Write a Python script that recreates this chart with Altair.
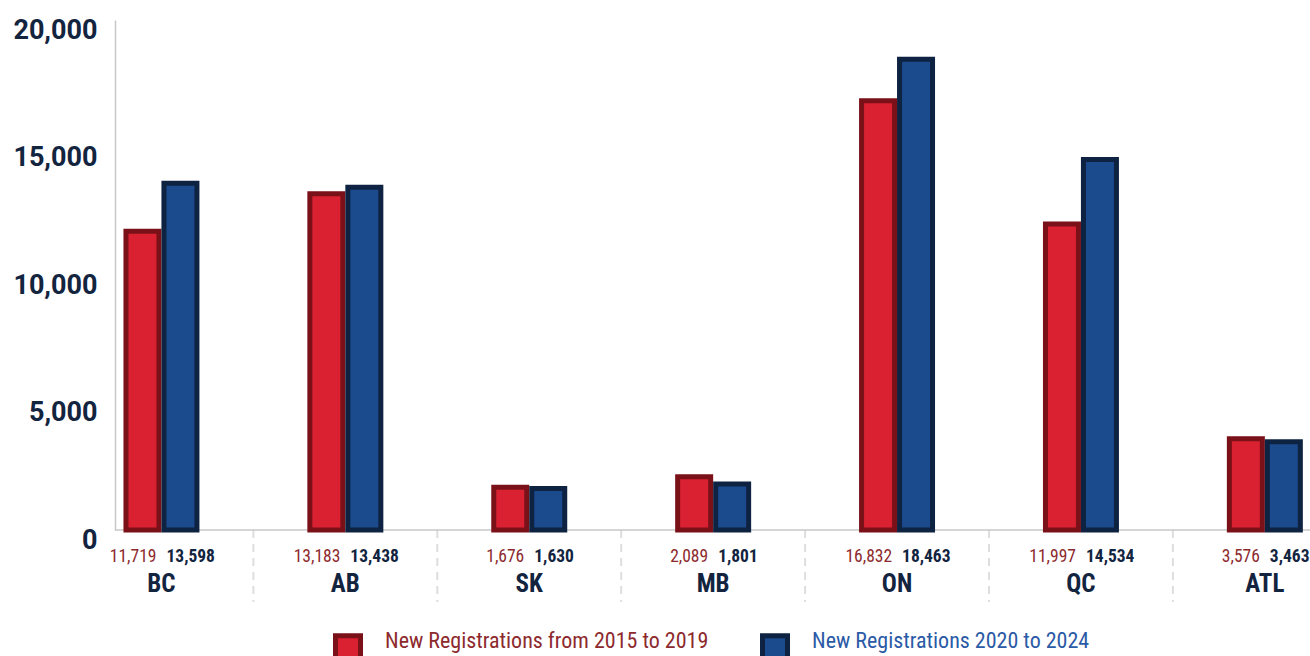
import altair as alt
import pandas as pd

# Provincial new registrations, two five-year periods
regions = ["BC", "AB", "SK", "MB", "ON", "QC", "ATL"]
reg_2015_2019 = [11719, 13183, 1676, 2089, 16832, 11997, 3576]
reg_2020_2024 = [13598, 13438, 1630, 1801, 18463, 14534, 3463]
series_names = ["New Registrations from 2015 to 2019", "New Registrations 2020 to 2024"]
y_ticks = [0, 5000, 10000, 15000, 20000]

W, H = 1195, 510

RED, RED_DK = "#d92131", "#7a1119"
BLUE, BLUE_DK = "#1b4a8d", "#0e2341"
NAVY = "#13243f"
RED_TXT, BLUE_TXT = "#8d2a2e", "#2b5aa6"
NARROW = "'Roboto Condensed', 'Liberation Sans Narrow', Roboto, sans-serif"

long_df = pd.DataFrame({
    "region": regions * 2,
    "series": [series_names[0]] * len(regions) + [series_names[1]] * len(regions),
    "value": reg_2015_2019 + reg_2020_2024,
})
wide_df = pd.DataFrame({"region": regions, "old": reg_2015_2019, "new": reg_2020_2024})
sep_df = pd.DataFrame({"region": regions[1:]})
base_df = pd.DataFrame({"v": [0]})

band_range = [-45.5, 1241.8]
x_band = alt.Scale(domain=regions, range=band_range, paddingInner=0.587, paddingOuter=0.2935)
x_step = alt.Scale(domain=regions, range=band_range, paddingInner=0, paddingOuter=0)
y_scale = alt.Scale(domain=[0, 20000], nice=False)

legend = alt.Legend(
    title=None, orient="none", direction="horizontal",
    legendX=218, legendY=613, padding=0,
    symbolType="square", symbolSize=625, symbolStrokeWidth=5,
    labelFont=NARROW, labelFontSize=22, labelOffset=22, labelLimit=600,
    labelBaseline="alphabetic",
    columnPadding=43,
    labelColor={"expr": f"datum.value == '{series_names[0]}' ? '{RED_TXT}' : '{BLUE_TXT}'"},
)

bars = alt.Chart(long_df).mark_bar(width=33, strokeWidth=5).encode(
    x=alt.X("region:N", scale=x_band, axis=None, sort=regions),
    xOffset=alt.XOffset("series:N", scale=alt.Scale(domain=series_names, paddingInner=0, paddingOuter=0)),
    y=alt.Y("value:Q", scale=y_scale, axis=alt.Axis(
        values=y_ticks, format=",d", title=None, grid=False, ticks=False,
        domainColor="#c8c8c8", domainWidth=1.5,
        labelFont="Roboto", labelFontWeight="bold", labelFontSize=27, labelColor=NAVY,
        labelPadding=18, labelOffset=10, labelFlush=False, labelOverlap=False, labelBound=False,
    )),
    fill=alt.Fill("series:N", scale=alt.Scale(domain=series_names, range=[RED, BLUE]), legend=legend),
    stroke=alt.Stroke("series:N", scale=alt.Scale(domain=series_names, range=[RED_DK, BLUE_DK]), legend=legend),
)

old_lbl = alt.Chart(wide_df).mark_text(
    align="right", dx=-5, baseline="alphabetic", font=NARROW, fontSize=17.5, color=RED_TXT
).encode(
    x=alt.X("region:N", scale=x_band, axis=None),
    y=alt.value(H + 32),
    text=alt.Text("old:Q", format=",d"),
)

new_lbl = alt.Chart(wide_df).mark_text(
    align="left", dx=5, baseline="alphabetic", font=NARROW, fontSize=17.5, fontWeight="bold", color=NAVY
).encode(
    x=alt.X("region:N", scale=x_band, axis=None),
    y=alt.value(H + 32),
    text=alt.Text("new:Q", format=",d"),
)

cat_lbl = alt.Chart(wide_df).mark_text(
    align="center", baseline="alphabetic", font=NARROW, fontSize=25, fontWeight="bold", color=NAVY
).encode(
    x=alt.X("region:N", scale=x_band, axis=None),
    y=alt.value(H + 62),
    text="region:N",
)

separators = alt.Chart(sep_df).mark_rule(strokeDash=[8, 6], color="#dedede", strokeWidth=2).encode(
    x=alt.X("region:N", scale=x_step, axis=None, bandPosition=0),
    y=alt.value(H),
    y2=alt.value(H + 72),
)

baseline = alt.Chart(base_df).mark_rule(color="#c8c8c8", strokeWidth=1.5).encode(
    y=alt.Y("v:Q", scale=y_scale),
    x=alt.value(0),
    x2=alt.value(W),
)

chart = alt.layer(separators, baseline, bars, old_lbl, new_lbl, cat_lbl).resolve_scale(
    x="independent"
).properties(
    width=W, height=H,
    autosize=alt.AutoSizeParams(type="none"),
    padding={"left": 115, "top": 20, "right": 0, "bottom": 126},
    background="white",
).configure_view(stroke=None)

chart.save("out.html", embed_options={"renderer": "svg", "actions": False})
